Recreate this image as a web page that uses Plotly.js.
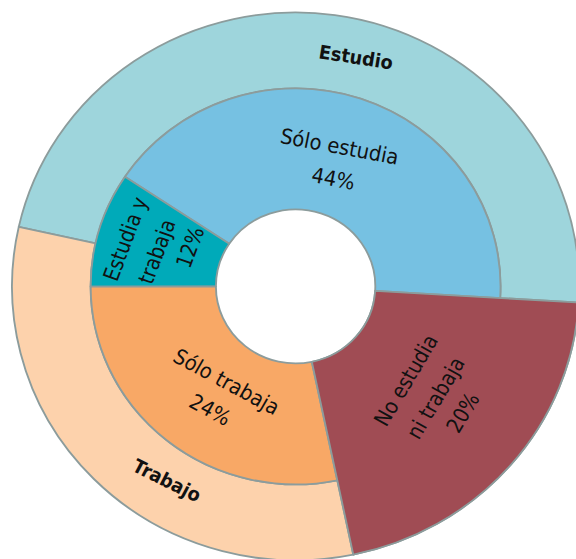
<!DOCTYPE html>
<html><head><meta charset="utf-8">
<script src="https://cdn.plot.ly/plotly-3.0.1.min.js"></script>
<style>
html,body{margin:0;padding:0;overflow:hidden;background:#fff}
#chart{width:576px;height:600px;transform:scaleX(1.035);transform-origin:295.6px 0}
</style>
</head><body><div id="chart"></div>
<script>
// ---- data (slice sizes as drawn in the picture, printed labels as shown) ----
const innerLabels = ['No estudia ni trabaja', 'Sólo estudia', 'Estudia y trabaja', 'Sólo trabaja'];
const innerShares = [20.8, 41.6, 9.35, 28.25];
const innerPctText = ['20%', '44%', '12%', '24%'];
const outerLabels = ['No estudia ni trabaja', 'Estudio', 'Trabajo'];
const outerShares = [20.8, 47.45, 31.75];

// ---- styles ----
const innerColors = ['#a04c54', '#76c1e2', '#00aab9', '#f8a866'];
const outerColors = ['#a04c54', '#9ed5dc', '#fdd2ac'];
const edge = '#8c9c9c';
const edgeW = 1.8;
const FONT = 'DejaVu Sans Condensed, DejaVu Sans, sans-serif';

// ---- geometry (px) ----
const W = 576, H = 600, CX = 295.6, CY = 286.4, SX = 1.035;
const R_OUT = 274, R_IN = 198, R_HOLE = 77;
const ROT = 93.38;

function dom(r) {
  return {x: [(CX - r) / W, (CX + r) / W], y: [(H - CY - r) / H, (H - CY + r) / H]};
}
function ux(xr) { return CX + (xr - CX) / SX; }

const common = {type: 'pie', sort: false, direction: 'counterclockwise', rotation: ROT,
  textinfo: 'none', hoverinfo: 'none', showlegend: false};

const traces = [
  Object.assign({}, common, {labels: outerLabels, values: outerShares, hole: R_IN / R_OUT,
    domain: dom(R_OUT), marker: {colors: outerColors, line: {color: edge, width: edgeW}}}),
  Object.assign({}, common, {labels: innerLabels, values: innerShares, hole: R_HOLE / R_IN,
    domain: dom(R_IN), marker: {colors: innerColors, line: {color: edge, width: edgeW}}}),
  Object.assign({}, common, {labels: innerLabels, values: innerShares, hole: R_HOLE / R_OUT,
    domain: dom(R_OUT), marker: {colors: [innerColors[0], 'rgba(0,0,0,0)', 'rgba(0,0,0,0)', 'rgba(0,0,0,0)'],
    line: {color: edge, width: [edgeW, 0, 0, 0]}}})
];

const labelSpecs = [
  {t: 'Sólo estudia', x: 340, y: 146.7, a: 11, s: 21},
  {t: innerPctText[1], x: 333.3, y: 179.2, a: 11, s: 21},
  {t: 'Estudia y', x: 125.8, y: 239.2, a: -70, s: 21},
  {t: 'trabaja', x: 156.7, y: 251.7, a: -70, s: 21},
  {t: innerPctText[2], x: 190.7, y: 247.3, a: -70, s: 21},
  {t: 'Sólo trabaja', x: 226.3, y: 382, a: 29, s: 21},
  {t: innerPctText[3], x: 210, y: 410, a: 29, s: 21},
  {t: 'No estudia', x: 405.8, y: 380.8, a: -60, s: 21},
  {t: 'ni trabaja', x: 436, y: 398, a: -60, s: 21},
  {t: innerPctText[0], x: 463.3, y: 413.3, a: -60, s: 21},
  {t: '<b>' + outerLabels[1] + '</b>', x: 356.5, y: 57, a: 9, s: 19},
  {t: '<b>' + outerLabels[2] + '</b>', x: 166.7, y: 480, a: 27, s: 19}
];

const annotations = labelSpecs.map(s => ({
  text: s.t, x: ux(s.x) / W, y: 1 - s.y / H, xref: 'paper', yref: 'paper',
  xanchor: 'center', yanchor: 'middle', showarrow: false, textangle: s.a,
  font: {family: FONT, size: s.s, color: '#111'}
}));

Plotly.newPlot('chart', traces, {
  width: W, height: H, margin: {l: 0, r: 0, t: 0, b: 0},
  paper_bgcolor: '#fff', annotations: annotations
}, {staticPlot: true, displayModeBar: false});
</script>
</body></html>
